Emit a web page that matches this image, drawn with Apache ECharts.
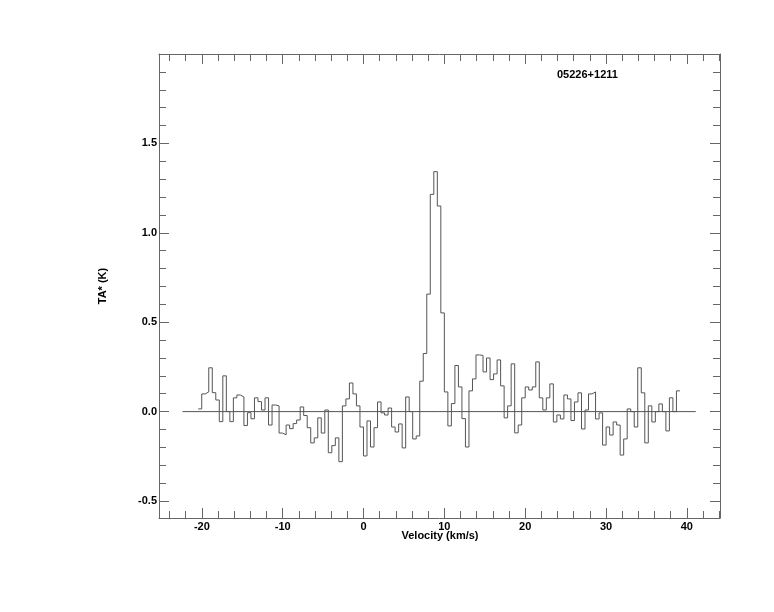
<!DOCTYPE html>
<html><head><meta charset="utf-8">
<script src="https://cdn.jsdelivr.net/npm/echarts@6/dist/echarts.min.js"></script>
<style>html,body{margin:0;padding:0;background:#fff}#c{width:774px;height:612px}</style>
</head><body><div id="c"></div>
<script>
// ---- data ----
const sourceName = '05226+1211';
const xTitle = 'Velocity (km/s)';
const yTitle = 'TA* (K)';
const firstChannelEdge = -20.45;   // km/s, left edge of first channel
const channelWidth = 0.435;        // km/s
const antennaTemp = [
  0.015, 0.099, 0.110, 0.245, 0.106, 0.065, -0.056, 0.200, 0.000, -0.056,
  0.077, 0.093, 0.082, -0.078, -0.006, -0.040, 0.077, 0.056, 0.009, 0.077,
  -0.075, 0.037, 0.032, -0.120, -0.130, -0.075, -0.095, -0.067, -0.047, 0.026,
  -0.022, -0.090, -0.175, -0.147, -0.035, -0.120, 0.009, -0.230, -0.190, -0.147,
  -0.280, 0.032, 0.071, 0.160, 0.099, 0.032, -0.086, -0.248, -0.052, -0.198,
  -0.090, 0.054, -0.007, -0.019, 0.020, -0.086, -0.114, -0.069, -0.203, 0.082,
  0.000, -0.153, -0.136, 0.170, 0.325, 0.657, 1.215, 1.342, 1.150, 0.552,
  0.110, -0.080, 0.045, 0.258, 0.138, -0.039, -0.198, 0.116, 0.183, 0.317,
  0.314, 0.222, 0.300, 0.179, 0.211, 0.289, 0.144, -0.035, 0.032, 0.267,
  -0.119, -0.075, 0.077, 0.138, 0.121, 0.138, 0.278, 0.077, 0.009, 0.077,
  0.155, -0.058, -0.019, -0.041, 0.093, 0.071, -0.050, 0.054, 0.105, -0.097,
  0.009, 0.099, 0.110, -0.041, -0.007, -0.187, -0.086, -0.131, -0.058, -0.075,
  -0.243, -0.153, 0.015, 0.000, -0.086, 0.245, 0.105, -0.175, 0.032, -0.058,
  0.000, 0.043, 0.000, -0.108, 0.077, 0.000, 0.116
];
const baselineRange = [-22.4, 41.1];
const xRange = [-25.3, 44.1];
const yRange = [-0.595, 2.0];
const xMajorTicks = [-20, -10, 0, 10, 20, 30, 40];
const yMajorTicks = [-0.5, 0.0, 0.5, 1.0, 1.5];
const xMinorStep = 2;
const yMinorStep = 0.1;

// ---- build ----
const xMinorTicks = [];
for (let v = -24; v <= 44; v += xMinorStep) if (v % 10 !== 0) xMinorTicks.push(v);
const yMinorTicks = [];
for (let i = -5; i <= 19; i++) if (i % 5 !== 0) yMinorTicks.push(+(i * yMinorStep).toFixed(1));

const stepPoints = antennaTemp.map((t, i) => [firstChannelEdge + i * channelWidth, t]);
stepPoints.push([firstChannelEdge + antennaTemp.length * channelWidth, antennaTemp[antennaTemp.length - 1]]);

const FONT = '"Liberation Sans", Arial, Helvetica, sans-serif';
const AX = '#666';
const LINE = '#555';

function xAxisDef(pos, ticks, len, labels, showLine) {
  return {
    type: 'value', position: pos, min: xRange[0], max: xRange[1],
    axisLine: { show: showLine, onZero: false, lineStyle: { color: AX, width: 1 } },
    axisTick: { show: true, inside: true, length: len, customValues: ticks, lineStyle: { color: AX, width: 1 } },
    axisLabel: labels ? { show: true, customValues: ticks, margin: 3, color: '#000', fontFamily: FONT, fontWeight: 'bold', fontSize: 11,
      formatter: v => String(Math.round(v)) } : { show: false },
    splitLine: { show: false }, minorTick: { show: false }
  };
}
function yAxisDef(pos, ticks, len, labels, showLine) {
  return {
    type: 'value', position: pos, min: yRange[0], max: yRange[1],
    axisLine: { show: showLine, onZero: false, lineStyle: { color: AX, width: 1 } },
    axisTick: { show: true, inside: true, length: len, customValues: ticks, lineStyle: { color: AX, width: 1 } },
    axisLabel: labels ? { show: true, customValues: ticks, margin: 2, color: '#000', fontFamily: FONT, fontWeight: 'bold', fontSize: 11,
      formatter: v => v.toFixed(1) } : { show: false },
    splitLine: { show: false }, minorTick: { show: false }
  };
}

const chart = echarts.init(document.getElementById('c'), null, { renderer: 'canvas' });
chart.setOption({
  animation: false,
  backgroundColor: '#fff',
  grid: { left: 159, right: 54, top: 54, bottom: 94, containLabel: false },
  xAxis: [
    xAxisDef('bottom', xMajorTicks, 10, true, true),
    xAxisDef('bottom', xMinorTicks, 7, false, false),
    xAxisDef('top', xMajorTicks, 10, false, true),
    xAxisDef('top', xMinorTicks, 7, false, false)
  ],
  yAxis: [
    yAxisDef('left', yMajorTicks, 10, true, true),
    yAxisDef('left', yMinorTicks, 7, false, false),
    yAxisDef('right', yMajorTicks, 10, false, true),
    yAxisDef('right', yMinorTicks, 7, false, false)
  ],
  series: [
    { type: 'line', xAxisIndex: 0, yAxisIndex: 0, data: baselineRange.map(v => [v, 0]),
      symbol: 'none', lineStyle: { color: LINE, width: 1 }, silent: true },
    { type: 'line', xAxisIndex: 0, yAxisIndex: 0, step: 'end', data: stepPoints,
      symbol: 'none', lineStyle: { color: LINE, width: 1 }, silent: true }
  ],
  graphic: [
    { type: 'text', x: 557, y: 75, style: { text: sourceName, fill: '#000', font: 'bold 11px ' + FONT, align: 'left', verticalAlign: 'middle' } },
    { type: 'text', x: 440, y: 536, style: { text: xTitle, fill: '#000', font: 'bold 11px ' + FONT, align: 'center', verticalAlign: 'middle' } },
    { type: 'text', x: 103, y: 286, rotation: Math.PI / 2, style: { text: yTitle, fill: '#000', font: 'bold 11px ' + FONT, align: 'center', verticalAlign: 'middle' } }
  ]
});
</script>
</body></html>
